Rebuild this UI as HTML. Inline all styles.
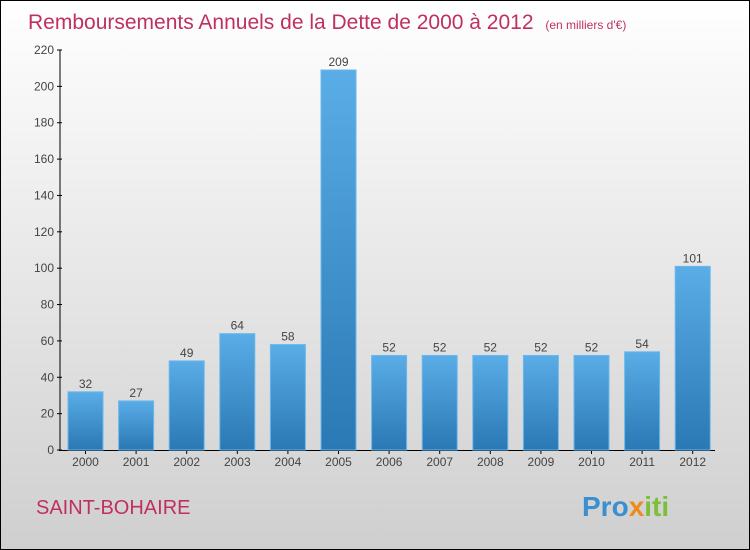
<!DOCTYPE html>
<html><head><meta charset="utf-8"><style>
body{margin:0}
svg{display:block;font-family:"Liberation Sans",sans-serif}
</style></head><body>
<svg id="c" width="750" height="550">
<defs>
<linearGradient id="bg" x1="0" y1="0" x2="0" y2="1"><stop offset="0" stop-color="#ffffff"/><stop offset="1" stop-color="#cfcfcf"/></linearGradient>
<linearGradient id="bar" x1="0" y1="0" x2="0" y2="1"><stop offset="0" stop-color="#5aade6"/><stop offset="1" stop-color="#2a78b4"/></linearGradient>
</defs>
<rect x="0.5" y="0.5" width="749" height="549" fill="url(#bg)" stroke="#000"/>
<text x="28" y="29" font-size="21" fill="#c0305f">Remboursements Annuels de la Dette de 2000 à 2012 <tspan font-size="12" dx="6">(en milliers d'€)</tspan></text>
<text x="36" y="514" font-size="20" fill="#c0305f">SAINT-BOHAIRE</text>
<text x="582" y="516" font-size="28" font-weight="bold"><tspan fill="#3a8fd0">Pro</tspan><tspan fill="#f08a1c">x</tspan><tspan fill="#7bbf3a">iti</tspan></text>
<g id="axes"></g><g id="bars"></g>
</svg>
<script>
const years=["2000","2001","2002","2003","2004","2005","2006","2007","2008","2009","2010","2011","2012"];
const values=[32,27,49,64,58,209,52,52,52,52,52,54,101];
const ticks=[0,20,40,60,80,100,120,140,160,180,200,220];
const NS="http://www.w3.org/2000/svg";
const y=v=>450-v*400/220;
const x=i=>68+i*50.6;
const ax=document.getElementById('axes'),bg=document.getElementById('bars');
function mk(t,a,p,txt){const e=document.createElementNS(NS,t);for(const k in a)e.setAttribute(k,a[k]);if(txt!=null)e.textContent=txt;p.appendChild(e);return e;}
let l=mk('line',{x1:60,y1:50,x2:60,y2:451,stroke:'#000'},ax);


l=mk('line',{x1:59,y1:450.5,x2:715,y2:450.5,stroke:'#000'},ax);


ticks.forEach(t=>{
 mk('line',{x1:57,x2:62,y1:y(t),y2:y(t),stroke:'#000'},ax);
 const e=mk('text',{x:54,y:y(t)+4,'font-size':12,'text-anchor':'end',fill:'#444'},ax,t);
 
 
});
values.forEach((v,i)=>{
 const r=mk('rect',{x:x(i),y:y(v),width:35,height:450-y(v),fill:'url(#bar)',stroke:'#6ab8ee','stroke-width':1},bg);
 
 
 const t=mk('text',{x:x(i)+17.5,y:y(v)-4,'font-size':12,'text-anchor':'middle',fill:'#444'},bg,v);
 
 
 mk('line',{x1:x(i)+17.5,x2:x(i)+17.5,y1:450,y2:454,stroke:'#000'},ax);
 const k=mk('text',{x:x(i)+17.5,y:466,'font-size':12,'text-anchor':'middle',fill:'#444'},ax,years[i]);
 
 
});
</script>
</body></html>
